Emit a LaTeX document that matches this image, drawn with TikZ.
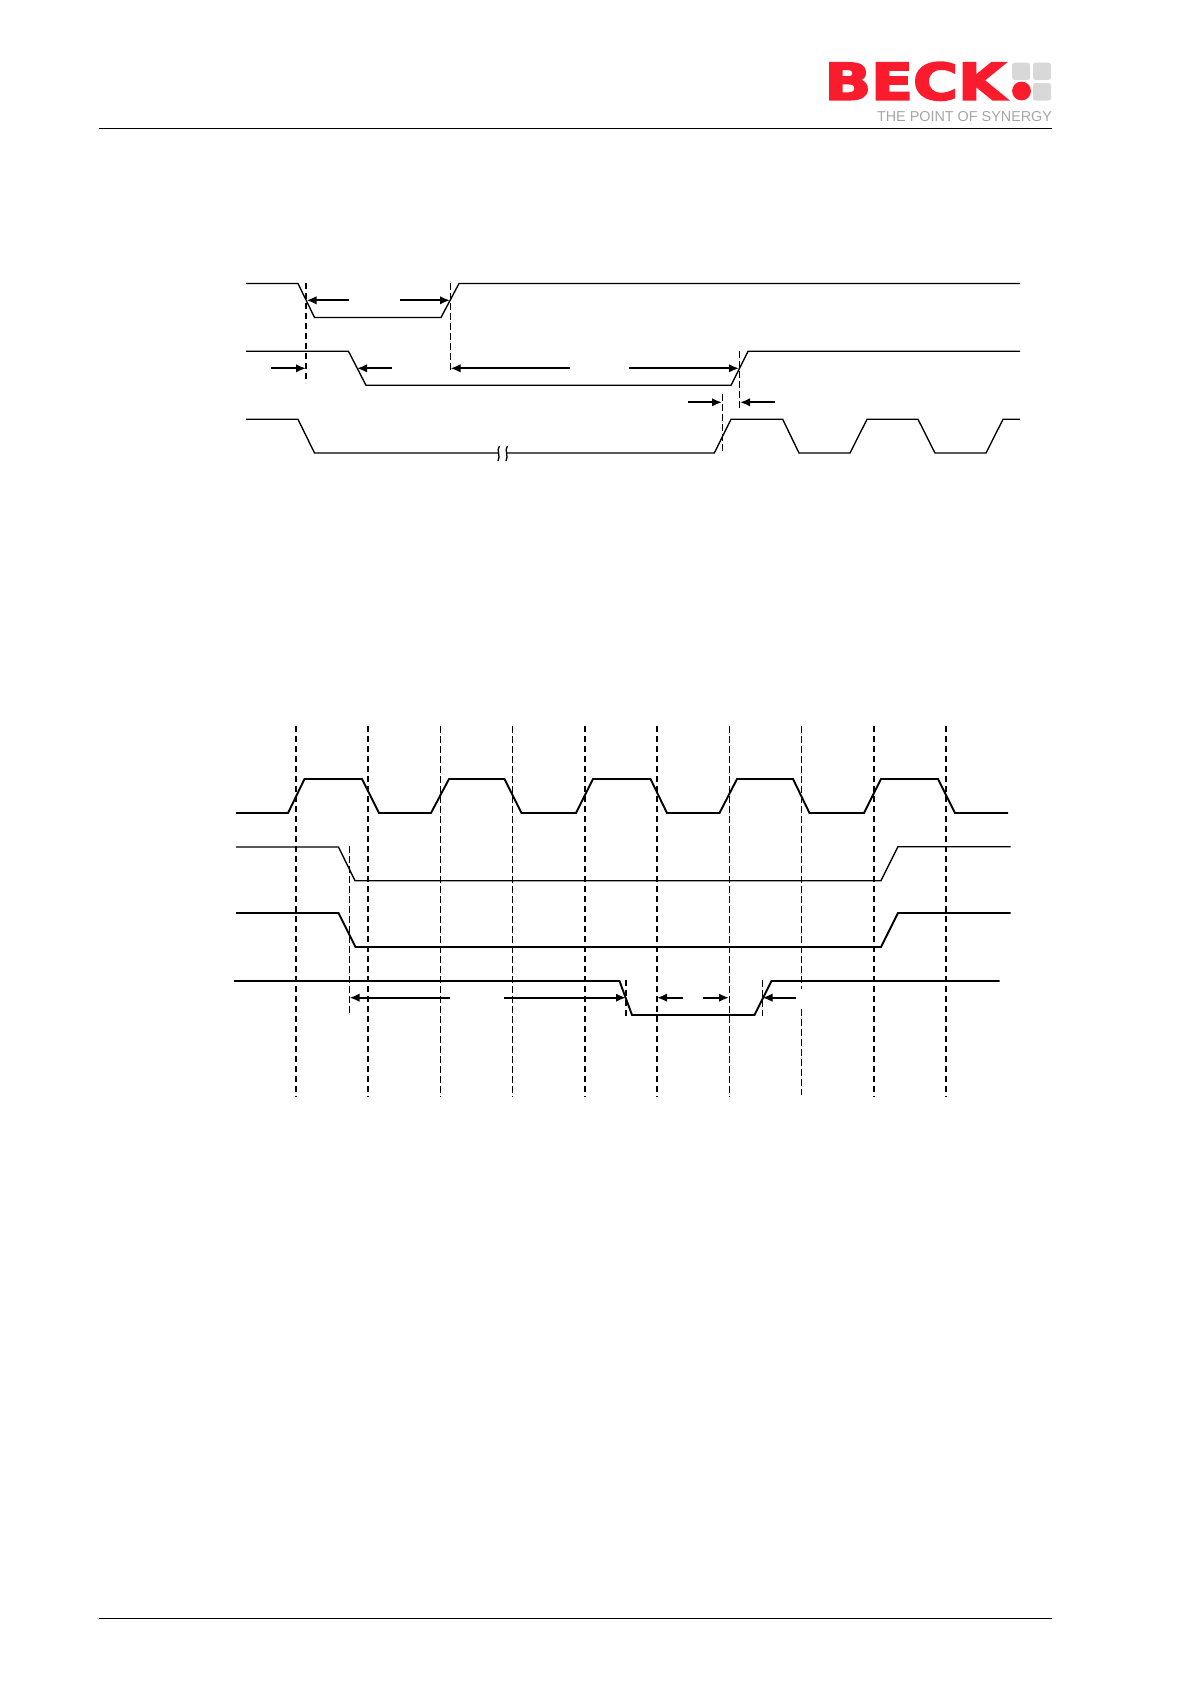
\documentclass[tikz,border=0pt]{standalone}
\usepackage{fontspec}
\setmainfont{Liberation Sans}
\newfontfamily\logofont[FakeBold=3.5]{DejaVu Sans Bold}
\definecolor{beckred}{RGB}{250,28,44}
\definecolor{beckgrey}{RGB}{216,216,216}
\definecolor{tagline}{RGB}{165,165,165}
\usetikzlibrary{arrows.meta}
\tikzset{
  x=1pt,y=-1pt,
  rule/.style={line width=0.9pt,black},
  sig/.style={line width=1.35pt,black,line join=miter},
  sigb/.style={line width=1.9pt,black,line join=miter},
  dthick/.style={line width=2pt,black,dash pattern=on 6pt off 4pt},
  dthin/.style={line width=1.2pt,black,dash pattern=on 6.5pt off 3.5pt},
  meas/.style={line width=1.9pt,black,-{Latex[length=10pt,width=8.5pt]}},
  square/.style={fill=beckgrey,rounded corners=2.5pt,draw=none},
}
\begin{document}
\begin{tikzpicture}
\useasboundingbox (0,0) rectangle (1191,1684);
% header and footer rules
\coordinate (hl) at (99,128.5); \coordinate (hr) at (1052,128.5);
\coordinate (fl) at (99,1618.5); \coordinate (fr) at (1052,1618.5);
\draw[rule] (hl) -- (hr);
\draw[rule] (fl) -- (fr);
% logo
\node[inner sep=0pt,text=beckred] (brand) at (915,81.3) {\resizebox{181pt}{37.5pt}{\logofont BECK}};
\fill[beckred] (1021.5,91) circle (9.4);
\fill[square] (1012,62.7) rectangle (1030,80);
\fill[square] (1033,62.7) rectangle (1051,80);
\fill[square] (1033,83) rectangle (1051,100.5);
\node[inner sep=0pt,text=tagline] (tag) at (964.5,116.5) {\resizebox{175pt}{!}{THE POINT OF SYNERGY}};

% ---------- upper diagram ----------
\draw[dthick] (306,283) -- (306,383);
\draw[dthin] (450.3,283) -- (450.3,372);
\draw[dthin] (739.5,351) -- (739.5,408);
\draw[dthin] (722.5,394) -- (722.5,453);
\draw[sig] (246,283.5) -- (298,283.5) -- (314.5,317.5) -- (441,317.5) -- (459,283.5) -- (1020,283.5);
\draw[sig] (246,351.3) -- (348.5,351.3) -- (366,385.3) -- (731,385.3) -- (748,351.3) -- (1020,351.3);
\draw[sig] (246,419.3) -- (298,419.3) -- (314.5,453) -- (498,453);
\draw[sig] (506,453) -- (714.3,453) -- (731,419.3) -- (782.7,419.3) -- (799,453) -- (850,453) -- (867,419.3) -- (918,419.3) -- (935,453) -- (986,453) -- (1003,419.3) -- (1020,419.3);
\draw[line width=1.3pt] (499.5,446) .. controls (496,450) and (501,456) .. (498,461);
\draw[line width=1.3pt] (507.5,446) .. controls (504,450) and (509,456) .. (506,461);
\draw[meas] (349,300.3) -- (306.5,300.3);
\draw[meas] (400,300.3) -- (450,300.3);
\draw[meas] (271,368.3) -- (306,368.3);
\draw[meas] (392,368.3) -- (357,368.3);
\draw[meas] (570,368.3) -- (450.5,368.3);
\draw[meas] (629,368.3) -- (739,368.3);
\draw[meas] (688,402.3) -- (722,402.3);
\draw[meas] (774.5,402.3) -- (740,402.3);

% ---------- lower diagram ----------
\foreach \x in {296,368,585,657,874,946} \draw[dthick] (\x,726) -- (\x,1097);
\foreach \x in {440.3,512.7,729.3} \draw[dthin] (\x,726) -- (\x,1097);
\draw[dthin] (801.7,726) -- (801.7,989);
\draw[dthin] (801.7,1009) -- (801.7,1095);
\draw[dthin] (349.3,846) -- (349.3,1016);
\draw[dthick] (626,980) -- (626,1016);
\draw[dthin] (762.5,980) -- (762.5,1016);
\draw[sigb] (236,813) -- (288,813) -- (304.5,779) -- (362,779) -- (379,813) -- (431,813) -- (449,779) -- (504.5,779) -- (521.5,813) -- (576,813) -- (593,779) -- (650.5,779) -- (667,813) -- (719.5,813) -- (737,779) -- (793,779) -- (809.5,813) -- (864,813) -- (881,779) -- (938,779) -- (955,813) -- (1008,813);
\draw[sig] (236,847) -- (338.5,847) -- (355,880.7) -- (881,880.7) -- (898,846.7) -- (1010.5,846.7);
\draw[sigb] (236,913) -- (338.5,913) -- (355.5,947) -- (881,947) -- (898,913) -- (1010.5,913);
\draw[sigb] (234,981) -- (619.5,981) -- (632,1015) -- (754.5,1015) -- (771.5,981) -- (999.5,981);
\draw[meas] (449.5,997.7) -- (349.5,997.7);
\draw[meas] (504,997.7) -- (626,997.7);
\draw[meas] (683,997.7) -- (657,997.7);
\draw[meas] (703,997.7) -- (729,997.7);
\draw[meas] (796,997.7) -- (762.5,997.7);
\end{tikzpicture}
\end{document}
